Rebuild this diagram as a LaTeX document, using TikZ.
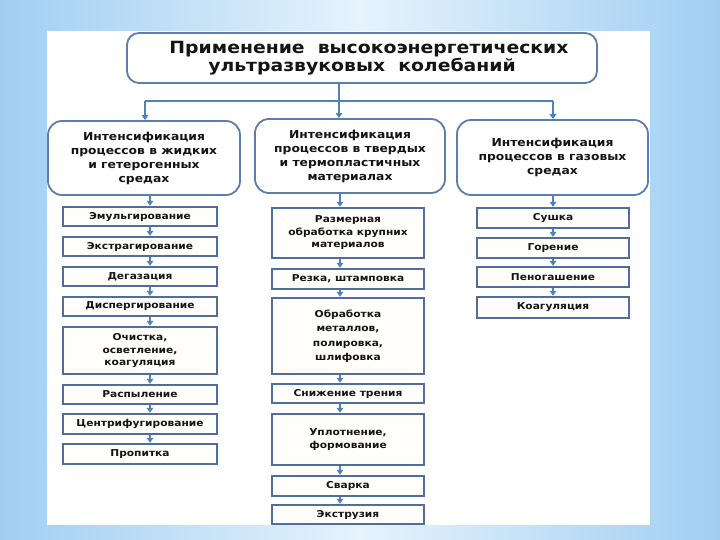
\documentclass[tikz,border=0pt]{standalone}
\usepackage{fontspec}
\setmainfont{DejaVu Sans}[FakeStretch=1.12]
\usetikzlibrary{arrows.meta}
\definecolor{bgblue}{RGB}{160,206,242}
\definecolor{bglight}{RGB}{230,243,252}
\definecolor{boxline}{RGB}{80,110,152}
\definecolor{bigline}{RGB}{92,126,168}
\definecolor{arrowc}{RGB}{79,129,189}
\definecolor{boxfill}{RGB}{255,254,250}
\definecolor{txt}{RGB}{20,20,20}
\begin{document}
\begin{tikzpicture}[x=1pt,y=-1pt,
  bigbox/.style={draw=bigline, line width=1.8pt, rounded corners=14pt, fill=white, align=center, inner sep=0pt, text=txt, font=\fontsize{11}{14}\selectfont\bfseries},
  smallbox/.style={draw=boxline, line width=2.4pt, fill=boxfill, align=center, inner sep=0pt, text=txt, font=\fontsize{9.5}{12.5}\selectfont\bfseries},
  lcol/.style={smallbox, minimum width=154pt},
  mcol/.style={smallbox, minimum width=152pt},
  rcol/.style={smallbox, minimum width=152pt},
  conn/.style={draw=arrowc, line width=1.3pt},
  arr/.style={conn, -{Triangle[width=6.5pt,length=5pt]}}]
\useasboundingbox (0,0) rectangle (720,540);
\shade[left color=bgblue, right color=bgblue, middle color=bglight] (0,0) rectangle (720,540);
\fill[white] (47,31) rectangle (650,525);

% title
\node[draw=bigline, line width=1.8pt, rounded corners=12pt, fill=white, align=center, inner sep=0pt,
      minimum width=470pt, minimum height=50pt, text=txt, font=\fontsize{16.8}{18}\selectfont\bfseries]
  (title) at (362,58) {\hspace*{14pt}Применение\ \ высокоэнергетических\\ультразвуковых\ \ колебаний};

% big boxes
\node[bigbox, minimum width=192pt, minimum height=74pt] (L) at (144,158)
  {Интенсификация\\процессов в жидких\\и гетерогенных\\средах};
\node[bigbox, minimum width=190pt, minimum height=74pt] (M) at (350,156)
  {Интенсификация\\процессов в твердых\\и термопластичных\\материалах};
\node[bigbox, minimum width=191pt, minimum height=75pt] (R) at (552.5,157.5)
  {Интенсификация\\процессов в газовых\\средах};

% left column
\node[lcol, minimum height=19pt] (emul) at (140,216.5) {Эмульгирование};
\node[lcol, minimum height=19pt] (extr) at (140,246.5) {Экстрагирование};
\node[lcol, minimum height=19pt] (degaz) at (140,276.5) {Дегазация};
\node[lcol, minimum height=19pt] (disp) at (140,306.5) {Диспергирование};
\node[lcol, minimum height=47pt] (ochist) at (140,350.5) {Очистка,\\осветление,\\коагуляция};
\node[lcol, minimum height=19pt] (raspyl) at (140,394.5) {Распыление};
\node[lcol, minimum height=20pt] (centr) at (140,424) {Центрифугирование};
\node[lcol, minimum height=20pt] (propit) at (140,454) {Пропитка};

% middle column
\node[mcol, minimum height=50pt] (razm) at (348,233) {Размерная\\обработка крупних\\материалов};
\node[mcol, minimum height=20pt] (rezka) at (348,279) {Резка, штамповка};
\node[mcol, minimum height=76pt, font=\fontsize{9.5}{14.5}\selectfont\bfseries] (obrab) at (348,336) {Обработка\\металлов,\\полировка,\\шлифовка};
\node[mcol, minimum height=19pt] (snizh) at (348,393.5) {Снижение трения};
\node[mcol, minimum height=51pt] (uplot) at (348,439.5) {Уплотнение,\\формование};
\node[mcol, minimum height=20pt] (svarka) at (348,486) {Сварка};
\node[mcol, minimum height=19pt] (extruz) at (348,514.5) {Экструзия};

% right column
\node[rcol, minimum height=20pt] (sushka) at (553,218) {Сушка};
\node[rcol, minimum height=20pt] (gorenie) at (553,248) {Горение};
\node[rcol, minimum height=20pt] (penog) at (553,277) {Пеногашение};
\node[rcol, minimum height=21pt] (koag) at (553,307.5) {Коагуляция};

% top connectors
\coordinate (hub) at (339,101);
\coordinate (jl) at (145,101);
\coordinate (jr) at (553,101);
\draw[conn] (title.south -| hub) -- (hub);
\draw[conn] (jl) -- (jr);
\draw[arr] (jl) -- (jl |- L.north);
\draw[arr] (hub) -- (hub |- M.north);
\draw[arr] (jr) -- (jr |- R.north);

% column arrows
\coordinate (ax) at (150,0);
\coordinate (mx) at (340,0);
\coordinate (rx) at (553,0);
\foreach \a/\b in {L/emul, emul/extr, extr/degaz, degaz/disp, disp/ochist, ochist/raspyl, raspyl/centr, centr/propit}
  \draw[arr] (\a.south -| ax) -- (\b.north -| ax);
\foreach \a/\b in {M/razm, razm/rezka, rezka/obrab, obrab/snizh, snizh/uplot, uplot/svarka, svarka/extruz}
  \draw[arr] (\a.south -| mx) -- (\b.north -| mx);
\foreach \a/\b in {R/sushka, sushka/gorenie, gorenie/penog, penog/koag}
  \draw[arr] (\a.south -| rx) -- (\b.north -| rx);
\end{tikzpicture}
\end{document}
